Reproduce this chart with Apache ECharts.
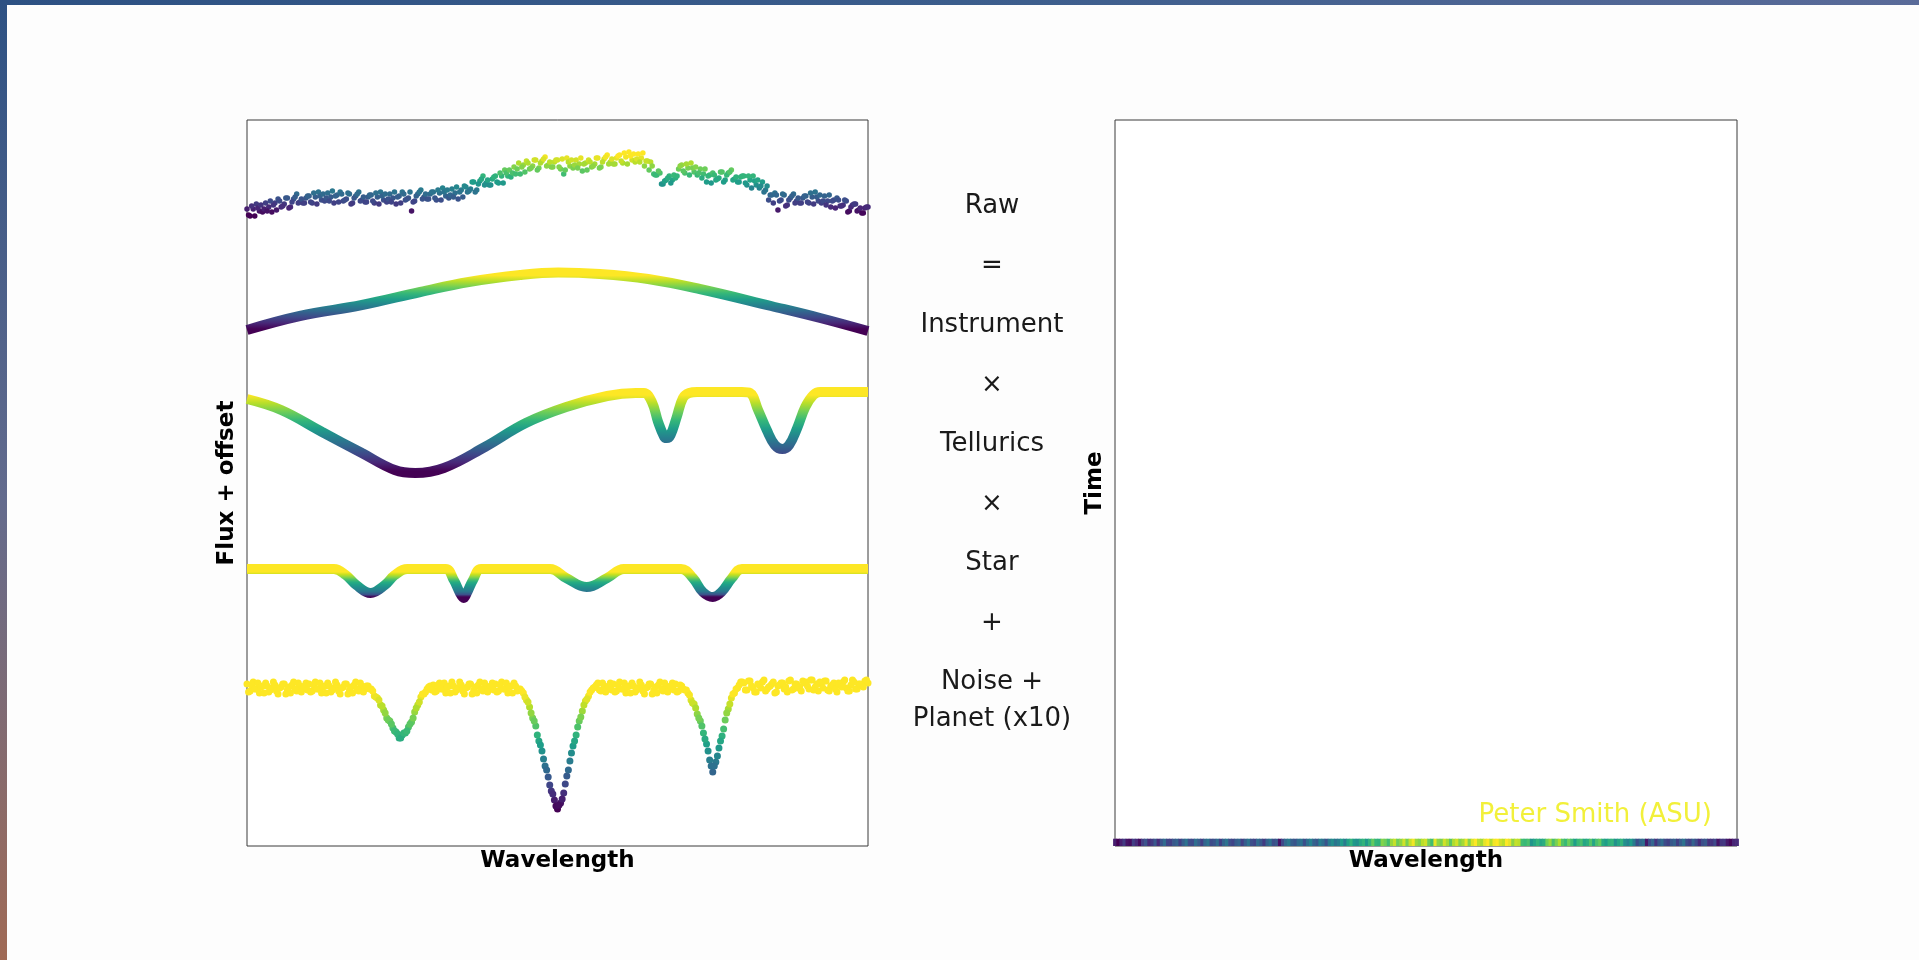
<!DOCTYPE html>
<html>
<head>
<meta charset="utf-8">
<script src="https://cdn.jsdelivr.net/npm/echarts@6/dist/echarts.min.js"></script>
<style>
html,body{margin:0;padding:0;background:#fdfdfd;}
#chart{width:1919px;height:960px;}
</style>
</head>
<body>
<div id="chart"></div>
<script>
// ---------- DATA ----------
// sampling grids of the noisy spectra (arbitrary wavelength units); two interleaved passes
const sampleWavelength = [
0,5,10,15,20,25,30,35,40,45,50,55,60,65,70,75,80,85,90,95,
100,105,110,115,120,125,130,135,140,145,150,155,160,165,170,175,180,185,190,195,
200,205,210,215,220,225,230,235,240,245,250,255,260,265,270,275,280,285,290,295,
300,305,310,315,320,325,330,335,340,345,350,355,360,365,370,375,380,385,390,395,
400,405,410,415,420,425,430,435,440,445,450,455,460,465,470,475,480,485,490,495,
500,505,510,515,520,525,530,535,540,545,550,555,560,565,570,575,580,585,590,595,
600,605,610,615,620,625,630,635,640,645,650,655,660,665,670,675,680,685,690,695,
700,705,710,715,720,725,730,735,740,745,750,755,760,765,770,775,780,785,790,795,
800,805,810,815,820,825,830,835,840,845,850,855,860,865,870,875,880,885,890,895,
900,905,910,915,920,925,930,935,940,945,950,955,960,965,970,975,980,985,990,995,
1000];
const sampleWavelengthB = [
2.5,7.5,12.5,17.5,22.5,27.5,32.5,37.5,42.5,47.5,52.5,57.5,62.5,67.5,72.5,77.5,82.5,87.5,92.5,97.5,
102.5,107.5,112.5,117.5,122.5,127.5,132.5,137.5,142.5,147.5,152.5,157.5,162.5,167.5,172.5,177.5,182.5,187.5,192.5,197.5,
202.5,207.5,212.5,217.5,222.5,227.5,232.5,237.5,242.5,247.5,252.5,257.5,262.5,267.5,272.5,277.5,282.5,287.5,292.5,297.5,
302.5,307.5,312.5,317.5,322.5,327.5,332.5,337.5,342.5,347.5,352.5,357.5,362.5,367.5,372.5,377.5,382.5,387.5,392.5,397.5,
402.5,407.5,412.5,417.5,422.5,427.5,432.5,437.5,442.5,447.5,452.5,457.5,462.5,467.5,472.5,477.5,482.5,487.5,492.5,497.5,
502.5,507.5,512.5,517.5,522.5,527.5,532.5,537.5,542.5,547.5,552.5,557.5,562.5,567.5,572.5,577.5,582.5,587.5,592.5,597.5,
602.5,607.5,612.5,617.5,622.5,627.5,632.5,637.5,642.5,647.5,652.5,657.5,662.5,667.5,672.5,677.5,682.5,687.5,692.5,697.5,
702.5,707.5,712.5,717.5,722.5,727.5,732.5,737.5,742.5,747.5,752.5,757.5,762.5,767.5,772.5,777.5,782.5,787.5,792.5,797.5,
802.5,807.5,812.5,817.5,822.5,827.5,832.5,837.5,842.5,847.5,852.5,857.5,862.5,867.5,872.5,877.5,882.5,887.5,892.5,897.5,
902.5,907.5,912.5,917.5,922.5,927.5,932.5,937.5,942.5,947.5,952.5,957.5,962.5,967.5,972.5,977.5,982.5,987.5,992.5,997.5];

// Raw (top, noisy) - pass A on sampleWavelength, pass B on sampleWavelengthB
const rawFlux = [
637,630,637,642,635,634,643,639,634,643,
647,639,642,648,639,647,652,644,643,648,
650,643,649,654,646,645,653,649,643,651,
654,645,647,652,643,650,654,646,644,649,
651,643,649,654,646,644,652,648,642,650,
654,646,648,635,645,652,656,649,647,652,
654,646,653,658,650,648,657,653,647,656,
660,654,657,664,656,665,670,663,661,667,
670,663,670,676,670,669,679,677,672,681,
685,677,680,686,678,685,689,681,679,684,
686,677,672,688,680,678,686,682,675,683,
686,679,682,688,679,687,691,684,682,688,
691,683,689,694,686,684,692,688,680,685,
684,672,671,673,662,666,670,666,668,677,
681,673,678,683,674,671,677,672,664,671,
673,666,668,674,666,673,676,667,664,669,
670,661,666,670,661,658,664,656,646,651,
653,636,646,651,641,648,652,645,643,648,
650,643,649,654,645,643,650,645,639,646,
648,640,641,645,635,641,642,636,633,638,
639];
const rawFluxB = [
631,640,630,638,641,637,635,645,641,636,
645,640,648,638,644,649,643,647,643,650,
644,653,642,650,652,648,645,655,650,644,
652,646,653,642,648,652,645,649,644,651,
645,653,642,650,652,647,644,654,649,643,
652,647,654,644,650,654,647,652,647,654,
648,656,646,654,656,651,649,659,654,649,
659,655,664,654,662,667,661,666,661,669,
664,673,663,673,676,673,672,683,679,674,
683,678,686,676,683,687,680,684,679,686,
679,687,676,684,686,681,678,688,682,676,
684,680,688,678,684,689,682,687,682,690,
685,693,682,690,692,687,684,693,685,676,
680,671,675,662,665,668,663,671,670,680,
675,682,671,678,679,673,668,677,670,663,
671,667,674,664,671,674,666,669,664,670,
663,670,658,665,666,660,654,660,651,643,
651,645,652,640,646,650,643,648,643,650,
644,653,642,649,651,645,641,651,645,638,
646,640,646,634,639,642,635,638,633,639];

// Instrument (smooth arc)
const instrumentWavelength = [0,85,185,279,357,440,501,568,646,729,844,923,1000];
const instrumentFlux       = [516,530,541,554,564,571,573.5,572,567,557,540,528,515];

// Tellurics
const telluricsWavelength = [0,55,121,185,238,271,317,383,449,514,580,626,639,652,662,672,676,682,692,702,712,725,797,810,823,837,850,862,873,886,899,912,923,1000];
const telluricsFlux       = [447,436,414,393,376,373,378,399,423,439,450,453,453,444,424,409,408,411,429,448,453,454,454,453,436,416,401,397,401,418,439,451,454,454];

// Star
const starWavelength = [0,140,159,176,199,222,238,258,320,333,343,349,354,364,377,488,514,547,580,607,699,718,734,750,764,781,797,1000];
const starFlux       = [277,277,271,261,253,261,271,277,277,266,253,248,253,266,277,277,268,259,268,277,277,268,254,249,254,268,277,277];

// Noise + Planet (x10) (bottom, noisy)
const noisePlanetFlux = [
162,155,164,157,153,160,163,154,158,161,
152,159,162,156,153,164,155,160,157,163,
162,155,164,157,153,160,163,154,158,161,
152,159,162,156,153,164,155,160,157,160,
157,150,148,141,136,128,125,118,114,108,
111,113,119,124,134,141,149,152,157,160,
161,155,163,157,153,160,164,154,158,161,
152,159,162,156,153,164,155,160,157,163,
162,155,164,157,153,160,163,155,157,153,
146,139,128,120,105,95,80,69,55,46,
37,43,53,70,85,100,111,125,135,145,
150,156,159,163,155,160,157,163,162,155,
164,157,153,160,163,154,158,161,152,159,
162,156,153,164,155,160,157,163,162,155,
160,156,153,146,142,132,125,113,102,86,
74,84,98,110,126,137,148,153,158,164,
163,156,165,158,154,161,164,155,159,162,
153,160,163,157,154,166,157,162,159,165,
164,157,166,159,155,162,165,156,160,163,
154,161,164,158,155,166,157,162,160,165,
163];
const noisePlanetFluxB = [
154,161,157,163,159,153,160,156,164,155,
158,162,152,159,161,157,163,154,160,156,
154,161,157,163,159,153,160,156,164,155,
158,162,152,159,161,157,163,154,160,157,
155,149,146,140,133,126,122,115,112,108,
113,115,122,128,138,144,152,154,159,156,
154,161,157,163,159,153,160,156,164,155,
158,162,152,159,161,157,163,154,160,156,
154,161,157,163,159,153,160,157,155,149,
144,133,125,111,101,87,76,61,52,40,
41,47,62,76,93,105,119,129,141,147,
154,158,161,156,163,154,160,156,154,161,
157,163,159,153,160,156,164,155,158,162,
152,159,161,157,163,154,160,156,154,161,
157,156,151,143,138,128,120,107,95,80,
80,90,105,117,133,142,152,157,161,164,
156,165,160,154,162,158,166,157,160,164,
154,161,163,159,165,156,162,158,155,163,
160,166,156,162,164,158,165,155,161,157,
163,159,166,155,161,164,157,162,159,166];

// Equation text between the panels
const equationLabels = ['Raw','=','Instrument','\u00d7','Tellurics','\u00d7','Star','+','Noise +','Planet (x10)'];
// Right panel: number of time rows; only the first (bottom) row is filled with the Raw spectrum
const timeRowCount = 100;
const firstTimeRow = 0;
const creditText = 'Peter Smith (ASU)';

// ---------- BUILD ----------
const viridis = ['#440154','#482878','#3e4989','#31688e','#26828e','#1f9e89','#35b779','#6ece58','#b5de2b','#fde725'];
// viridis resampled with a compressed low end (colour style for the Star curve)
const viridisStar = ['#440154','#3b528b','#2c728e','#25848e','#21918c','#1fa088','#28ae80','#4fc16b','#8bd646','#c8e020','#fde725'];
const zip = (xs, ys) => xs.map((x, i) => [x, ys[i]]);
const rawData = zip(sampleWavelength, rawFlux).concat(zip(sampleWavelengthB, rawFluxB));
const noiseData = zip(sampleWavelength, noisePlanetFlux).concat(zip(sampleWavelengthB, noisePlanetFluxB));
const stripData = sampleWavelength.map((w, i) => [w, firstTimeRow + 0.5, rawFlux[i]]);
const ext = a => [Math.min.apply(null, a), Math.max.apply(null, a)];

const FONT = 'DejaVu Sans';
const axisNameStyle = {fontFamily: FONT, fontWeight: 'bold', fontSize: 23, color: '#000'};
const hidden = {axisLine: {show: false}, axisTick: {show: false}, axisLabel: {show: false}, splitLine: {show: false}};

// padLo / padHi: colour-scale padding (style only) so flat tops read as solid yellow
function vm(seriesIndex, dim, arr, padLo, padHi, colors) {
  const e = ext(arr);
  return {type: 'continuous', show: false, seriesIndex: seriesIndex, dimension: dim,
          min: e[0] + (padLo || 0), max: e[1] - (padHi || 0), inRange: {color: colors || viridis}};
}

const chart = echarts.init(document.getElementById('chart'), null, {renderer: 'canvas'});

const labelY = [206, 266, 325, 385, 444, 504, 563, 623, 682, 719];
const graphics = [
  {type: 'rect', silent: true, z: 100, shape: {x: 0, y: 0, width: 1919, height: 5},
   style: {fill: new echarts.graphic.LinearGradient(0, 0, 1, 0, [
     {offset: 0, color: '#2d5183'}, {offset: 0.5, color: '#3b5d8c'}, {offset: 1, color: '#5a6b99'}])}},
  {type: 'rect', silent: true, z: 100, shape: {x: 0, y: 0, width: 7, height: 960},
   style: {fill: new echarts.graphic.LinearGradient(0, 0, 0, 1, [
     {offset: 0, color: '#2d5183'}, {offset: 0.52, color: '#636b8d'}, {offset: 1, color: '#a06a55'}])}}
];
equationLabels.forEach((t, i) => {
  graphics.push({type: 'text', x: 992, y: labelY[i], silent: true,
    style: {text: t, fontFamily: FONT, fontSize: 26, fill: '#1a1a1a', align: 'center', verticalAlign: 'middle'}});
});
graphics.push({type: 'text', x: 1712, y: 815, silent: true,
  style: {text: creditText, fontFamily: FONT, fontSize: 26, fill: '#f2f03a', align: 'right', verticalAlign: 'middle'}});

const option = {
  backgroundColor: '#fdfdfd',
  animation: false,
  grid: [
    {left: 247, top: 120, width: 621, height: 726, show: true, borderColor: '#3a3a3a', borderWidth: 1, backgroundColor: '#ffffff'},
    {left: 1115, top: 120, width: 622, height: 726, show: true, borderColor: '#3a3a3a', borderWidth: 1, backgroundColor: '#ffffff'}
  ],
  xAxis: [
    Object.assign({type: 'value', gridIndex: 0, min: 0, max: 1000, name: 'Wavelength', nameLocation: 'middle', nameGap: 4, nameTextStyle: axisNameStyle}, hidden),
    Object.assign({type: 'value', gridIndex: 1, min: 0, max: 1000, name: 'Wavelength', nameLocation: 'middle', nameGap: 4, nameTextStyle: axisNameStyle}, hidden)
  ],
  yAxis: [
    Object.assign({type: 'value', gridIndex: 0, min: 0, max: 726, name: 'Flux + offset', nameLocation: 'middle', nameGap: 8, nameRotate: 90, nameTextStyle: axisNameStyle}, hidden),
    Object.assign({type: 'value', gridIndex: 1, min: 0, max: timeRowCount, name: 'Time', nameLocation: 'middle', nameGap: 8, nameRotate: 90, nameTextStyle: axisNameStyle}, hidden)
  ],
  visualMap: [
    vm(0, 1, rawFlux.concat(rawFluxB), 2, 4),
    vm(1, 1, instrumentFlux, 2, 3),
    vm(2, 1, telluricsFlux, 2, 3),
    vm(3, 1, starFlux, 1, 3, viridisStar),
    vm(4, 1, noisePlanetFlux.concat(noisePlanetFluxB), 0, 14),
    vm(5, 2, rawFlux, 2, 4)
  ],
  series: [
    {name: 'Raw', type: 'scatter', xAxisIndex: 0, yAxisIndex: 0, data: rawData, symbolSize: 5.5, itemStyle: {opacity: 1}},
    {name: 'Instrument', type: 'line', xAxisIndex: 0, yAxisIndex: 0, data: zip(instrumentWavelength, instrumentFlux), smooth: 0.4, showSymbol: false, lineStyle: {width: 10}},
    {name: 'Tellurics', type: 'line', xAxisIndex: 0, yAxisIndex: 0, data: zip(telluricsWavelength, telluricsFlux), smooth: 0.4, showSymbol: false, lineStyle: {width: 10}},
    {name: 'Star', type: 'line', xAxisIndex: 0, yAxisIndex: 0, data: zip(starWavelength, starFlux), smooth: 0.4, showSymbol: false, lineStyle: {width: 10}},
    {name: 'Noise + Planet', type: 'scatter', xAxisIndex: 0, yAxisIndex: 0, data: noiseData, symbolSize: 7, itemStyle: {opacity: 1}},
    {name: 'Time series', type: 'scatter', xAxisIndex: 1, yAxisIndex: 1, data: stripData, symbol: 'rect', symbolSize: [3.8, 7.3], itemStyle: {opacity: 1}}
  ],
  graphic: graphics
};
chart.setOption(option);
</script>
</body>
</html>
